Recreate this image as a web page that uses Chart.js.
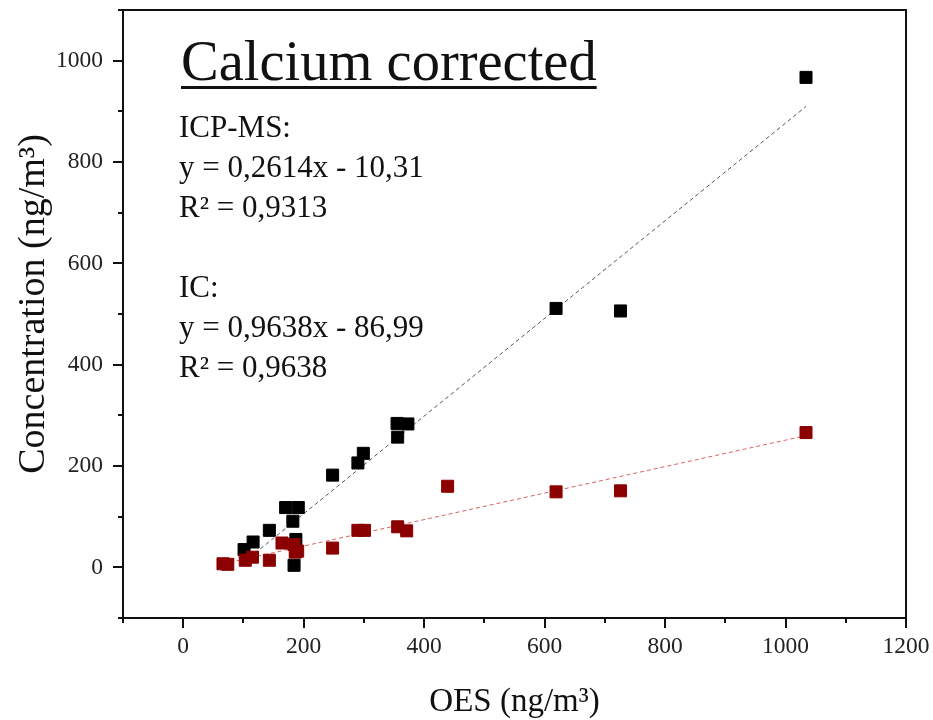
<!DOCTYPE html>
<html lang="en">
<head>
<meta charset="UTF-8">
<title>Calcium corrected</title>
<script src="https://cdn.jsdelivr.net/npm/chart.js"></script>
<style>
  html, body { margin: 0; padding: 0; background: #fff; }
</style>
</head>
<body>
<canvas id="caChart" width="933" height="720"></canvas>

<script>
// OES reference values (x) and measured concentrations (y), ng/m3
const icOes   = [101, 116, 143, 170, 191, 182, 187, 184, 248, 290, 299, 355, 373, 356, 619, 726, 1034];
const icConc  = [35, 50, 73, 118, 118, 91, 55, 4, 182, 206, 225, 284, 283, 257, 511, 506, 967];

const icpmsOes  = [66, 74, 103, 115, 143, 164, 184, 186, 190, 248, 290, 301, 356, 371, 439, 619, 726, 1034];
const icpmsConc = [7, 6, 14, 20, 14, 48, 45, 30, 32, 38, 73, 73, 80, 72, 160, 149, 151, 266];

// linear fits: [ICP-MS, IC]
const fitNames     = ['ICP-MS', 'IC'];
const fitSlope     = [0.2614, 0.9638];
const fitIntercept = [-10.31, -86.99];
const fitR2        = [0.9313, 0.9638];

const chartTitle = 'Calcium corrected';
const xTitle = 'OES (ng/m³)';
const yTitle = 'Concentration (ng/m³)';

const xTicks = [-100, 0, 100, 200, 300, 400, 500, 600, 700, 800, 900, 1000, 1100, 1200];
const yTicks = [-100, 0, 100, 200, 300, 400, 500, 600, 700, 800, 900, 1000, 1100];

const SERIF = "'Liberation Serif', 'Times New Roman', serif";

function pts(xs, ys) {
    return xs.map((x, i) => ({ x: x, y: ys[i] }));
}

function fitLine(k, xs) {
    const lo = Math.min(...xs), hi = Math.max(...xs);
    return [lo, hi].map(x => ({ x: x, y: fitSlope[k] * x + fitIntercept[k] }));
}

function comma(v, d) {
    return v.toFixed(d).replace('.', ',');
}

// fixed axis box sizes, no extra label padding
function pinScale(scale, size) {
    if (scale.isHorizontal()) scale.height = size;
    else scale.width = size;
    scale.paddingTop = 0;
    scale.paddingBottom = 0;
    scale.paddingLeft = 0;
    scale.paddingRight = 0;
}

// frame, outward tick marks, axis titles and the fit annotations
const decorations = {
    id: 'decorations',
    afterDraw(chart) {
        const ctx = chart.ctx;
        const a = chart.chartArea;
        const xs = chart.scales.x, ys = chart.scales.y;
        ctx.save();
        ctx.strokeStyle = '#111';
        ctx.lineWidth = 2;
        ctx.strokeRect(a.left, a.top, a.right - a.left, a.bottom - a.top);

        ctx.beginPath();
        xTicks.forEach(v => {
            const px = Math.round(xs.getPixelForValue(v));
            const len = v % 200 === 0 ? 10 : 5;
            ctx.moveTo(px, a.bottom);
            ctx.lineTo(px, a.bottom + len);
        });
        yTicks.forEach(v => {
            const py = Math.round(ys.getPixelForValue(v));
            const len = v % 200 === 0 ? 10 : 5;
            ctx.moveTo(a.left, py);
            ctx.lineTo(a.left - len, py);
        });
        ctx.stroke();

        ctx.fillStyle = '#111';
        ctx.textBaseline = 'alphabetic';

        // axis titles
        ctx.font = '33px ' + SERIF;
        ctx.textAlign = 'center';
        ctx.fillText(xTitle, (a.left + a.right) / 2, 711);
        ctx.save();
        ctx.translate(44, 304);
        ctx.rotate(-Math.PI / 2);
        ctx.font = '38px ' + SERIF;
        ctx.fillText(yTitle, 0, 0);
        ctx.restore();

        // heading, underlined
        ctx.textAlign = 'left';
        ctx.font = '56.5px ' + SERIF;
        ctx.fillText(chartTitle, 181, 80);
        const w = ctx.measureText(chartTitle).width;
        ctx.fillRect(181, 86, w, 3);

        // fit equations
        ctx.font = '31px ' + SERIF;
        const blockTop = [137, 297];
        fitNames.forEach((name, k) => {
            const y0 = blockTop[k];
            const sign = fitIntercept[k] < 0 ? ' - ' : ' + ';
            ctx.fillText(name + ':', 179, y0);
            ctx.fillText('y = ' + comma(fitSlope[k], 4) + 'x' + sign + comma(Math.abs(fitIntercept[k]), 2), 179, y0 + 40);
            ctx.fillText('R² = ' + comma(fitR2[k], 4), 179, y0 + 80);
        });
        ctx.restore();
    }
};

const ctx = document.getElementById('caChart').getContext('2d');

new Chart(ctx, {
    type: 'scatter',
    data: {
        datasets: [
            {
                label: 'ICP-MS',
                data: pts(icpmsOes, icpmsConc),
                backgroundColor: '#8b0000',
                borderColor: '#8b0000',
                borderWidth: 1,
                pointStyle: 'rect',
                pointRadius: 8.5
            },
            {
                label: 'IC',
                data: pts(icOes, icConc),
                backgroundColor: '#000',
                borderColor: '#000',
                borderWidth: 1,
                pointStyle: 'rect',
                pointRadius: 8.5
            },
            {
                label: 'ICP-MS fit',
                data: fitLine(0, icpmsOes),
                showLine: true,
                borderColor: '#d9605f',
                borderWidth: 1,
                borderDash: [4, 3],
                pointRadius: 0
            },
            {
                label: 'IC fit',
                data: fitLine(1, icOes),
                showLine: true,
                borderColor: '#555',
                borderWidth: 1,
                borderDash: [4, 3],
                pointRadius: 0
            }
        ]
    },
    options: {
        responsive: false,
        animation: false,
        layout: { padding: { top: 10, right: 27, left: 0, bottom: 0 } },
        plugins: {
            legend: { display: false },
            tooltip: { enabled: false }
        },
        scales: {
            x: {
                type: 'linear',
                min: -100,
                max: 1200,
                grid: { display: false, drawTicks: false },
                border: { display: false },
                ticks: {
                    stepSize: 100,
                    autoSkip: false,
                    maxRotation: 0,
                    padding: 15,
                    color: '#222',
                    font: { family: SERIF, size: 23.5 },
                    callback: v => (v >= 0 && v % 200 === 0) ? String(v) : ''
                },
                afterFit(scale) { pinScale(scale, 102); }
            },
            y: {
                type: 'linear',
                min: -100,
                max: 1100,
                grid: { display: false, drawTicks: false },
                border: { display: false },
                ticks: {
                    stepSize: 100,
                    autoSkip: false,
                    padding: 20,
                    color: '#222',
                    font: { family: SERIF, size: 23.5 },
                    callback: v => (v >= 0 && v <= 1000 && v % 200 === 0) ? String(v) : ''
                },
                afterFit(scale) { pinScale(scale, 123); }
            }
        }
    },
    plugins: [decorations]
});
</script>
</body>
</html>
